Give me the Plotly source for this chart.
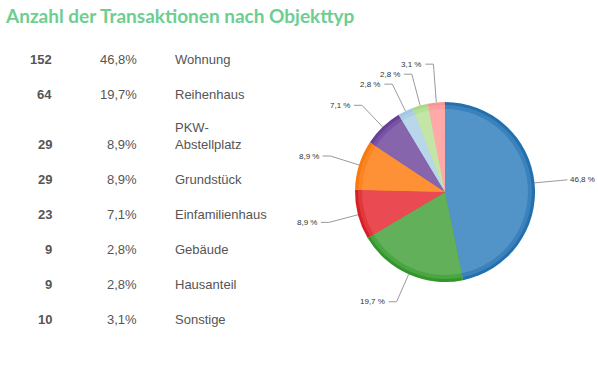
import math
import plotly.graph_objects as go

# ---- data ----
categories = ["Wohnung", "Reihenhaus", "PKW-Abstellplatz", "Grundstück",
              "Einfamilienhaus", "Gebäude", "Hausanteil", "Sonstige"]
counts = [152, 64, 29, 29, 23, 9, 9, 10]
percents = [46.8, 19.7, 8.9, 8.9, 7.1, 2.8, 2.8, 3.1]
title_text = "Anzahl der Transaktionen nach Objekttyp"

# ---- style ----
W, H = 598, 372
rim_colors = ["#2270ad", "#33962b", "#d52027", "#f77a10", "#673f97",
              "#a2c8e2", "#a9d986", "#fa9595"]
mid_colors = ["#3b82bd", "#4aa542", "#e2373d", "#fb8523", "#7852a3",
              "#accfe6", "#b6e096", "#fd9f9f"]
fill_colors = ["#5294c7", "#62b05a", "#ea4b52", "#fe9036", "#8765ad",
               "#b8d7ea", "#c3e6a7", "#ffa9a9"]
text_gray = "#555555"
font_fam = "Liberation Sans, Arial, sans-serif"

cx, cy, R = 445, 192, 90  # pie centre / radius in pixels

def dom(r):
    return dict(x=[(cx - r) / W, (cx + r) / W],
                y=[(H - cy - r) / H, (H - cy + r) / H])

fig = go.Figure()

for colors, r in ((rim_colors, R), (mid_colors, R - 3), (fill_colors, R - 7)):
    fig.add_trace(go.Pie(
        labels=categories, values=counts, sort=False, direction="clockwise",
        rotation=0, textinfo="none", domain=dom(r),
        marker=dict(colors=colors, line=dict(width=0)),
        showlegend=False, hoverinfo="label+value+percent",
    ))

# ---- pie labels with leader lines (positions derived from data) ----
total = sum(counts)
cum = 0
labels = []
for c, p in zip(counts, percents):
    mid = (cum + c / 2) / total * 2 * math.pi
    cum += c
    sx, sy = math.sin(mid), -math.cos(mid)
    labels.append(dict(
        edge=(cx + R * sx, cy + R * sy),
        elbow=[cx + 120 * sx, cy + 120 * sy],
        right=sx > 0,
        text=f"{p:.1f} %".replace(".", ","),
    ))

# avoid overlap on the left side (bottom to top)
left = sorted([l for l in labels if not l["right"]], key=lambda l: -l["elbow"][1])
prev = None
for l in left:
    if prev is not None and l["elbow"][1] > prev - 10:
        l["elbow"][1] = prev - 10
    prev = l["elbow"][1]

lx, ly = [], []
annotations = []
for l in labels:
    ex, ey = l["elbow"]
    hx = ex + 3 if l["right"] else ex - 8
    lx += [l["edge"][0], ex, hx, None]
    ly += [l["edge"][1], ey, ey, None]
    annotations.append(dict(
        x=hx + (1 if l["right"] else -2), y=ey, xref="x", yref="y",
        text=l["text"], showarrow=False,
        xanchor="left" if l["right"] else "right", yanchor="middle",
        font=dict(family=font_fam, size=8, color="#333333"),
    ))

fig.add_trace(go.Scatter(x=lx, y=ly, mode="lines", hoverinfo="skip",
                         line=dict(color="#9a9a9a", width=1), showlegend=False))

# ---- table on the left ----
row_y = []
y = 59 - 35
for cat in categories:
    lines = 2 if "-" in cat else 1
    y += 35 + 15 * (lines - 1)
    row_y.append(y)

for cat, c, p, yy in zip(categories, counts, percents, row_y):
    name = cat.replace("-", "-<br>")
    base = dict(xref="x", yref="y", showarrow=False, yanchor="bottom", y=yy + 9.5)
    annotations.append(dict(base, x=54, xanchor="right", text=f"<b>{c}</b>",
                            font=dict(family=font_fam, size=13, color=text_gray)))
    annotations.append(dict(base, x=139, xanchor="right",
                            text=f"{p:.1f}%".replace(".", ","),
                            font=dict(family=font_fam, size=13, color=text_gray)))
    annotations.append(dict(base, x=173, xanchor="left", align="left", text=name,
                            font=dict(family=font_fam, size=13, color=text_gray)))

annotations.append(dict(
    x=3, y=15, xref="x", yref="y", xanchor="left", yanchor="middle",
    text=f"<b>{title_text}</b>", showarrow=False,
    font=dict(family="Lato, sans-serif", size=19, color="#6dce91"),
))

fig.update_layout(
    width=W, height=H, margin=dict(l=0, r=0, t=0, b=0),
    paper_bgcolor="white", plot_bgcolor="white",
    xaxis=dict(range=[0, W], visible=False, fixedrange=True),
    yaxis=dict(range=[H, 0], visible=False, fixedrange=True),
    annotations=annotations,
)

fig.write_html(
    "out.html",
    config={"displayModeBar": False},
    post_script="document.body.style.margin='0';document.body.style.overflow='hidden';",
)
